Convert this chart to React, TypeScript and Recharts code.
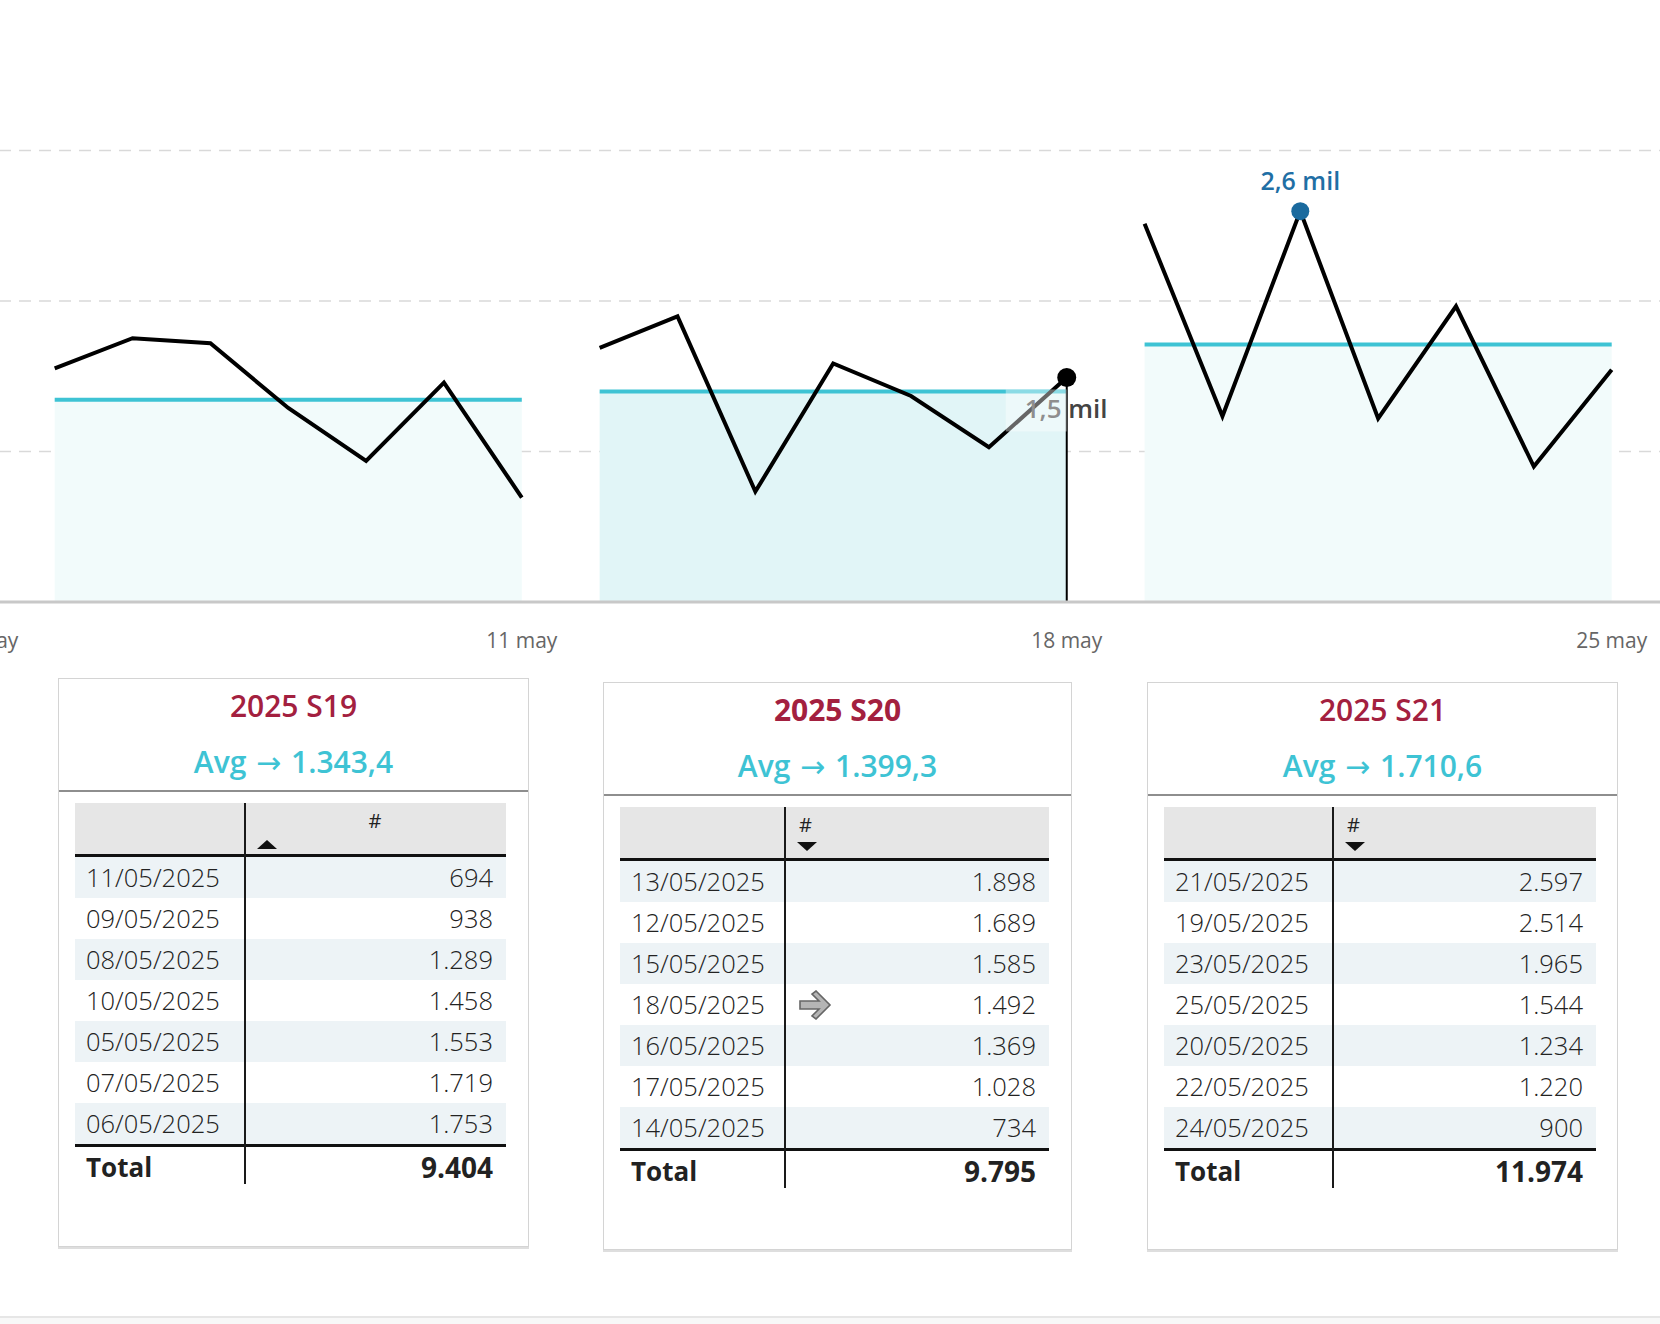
import React from 'react';
import { ComposedChart, Line, Area, XAxis, YAxis, CartesianGrid, ReferenceLine } from 'recharts';

// ---------- data ----------
const week1Days = [5, 6, 7, 8, 9, 10, 11];
const week1Values = [1553, 1753, 1719, 1289, 938, 1458, 694];
const week2Days = [12, 13, 14, 15, 16, 17, 18];
const week2Values = [1689, 1898, 734, 1585, 1369, 1028, 1492];
const week3Days = [19, 20, 21, 22, 23, 24, 25];
const week3Values = [2514, 1234, 2597, 1220, 1965, 900, 1544];
const weekTitles = ['2025 S19', '2025 S20', '2025 S21'];
const tickDays = [4, 11, 18, 25];
const tickLabels = ['4 may', '11 may', '18 may', '25 may'];
const gridValues = [1000, 2000, 3000];
const monthSuffix = '/05/2025';

// ---------- helpers ----------
const sum = (a: number[]) => a.reduce((s, v) => s + v, 0);
const avgOf = (a: number[]) => sum(a) / a.length;
const thousands = (s: string) => s.replace(/\B(?=(\d{3})+(?!\d))/g, '.');
const fmtInt = (n: number) => thousands(String(Math.round(n)));
const fmtAvg = (n: number) => {
  const [i, d] = n.toFixed(1).split('.');
  return `${thousands(i)},${d}`;
};
const fmtMil = (n: number) => `${(n / 1000).toFixed(1).replace('.', ',')} mil`;
const fmtDate = (d: number) => `${String(d).padStart(2, '0')}${monthSuffix}`;

const weeks = [
  { days: week1Days, values: week1Values },
  { days: week2Days, values: week2Values },
  { days: week3Days, values: week3Values },
];
const weekAvgs = weeks.map((w) => avgOf(w.values));

const chartData = weeks.flatMap((w, wi) =>
  w.days.map((d, i) => {
    const row: any = { day: d, w1: null, w2: null, w3: null, a1: null, a2: null, a3: null };
    row[`w${wi + 1}`] = w.values[i];
    row[`a${wi + 1}`] = weekAvgs[wi];
    return row;
  })
);

const lastW2Day = week2Days[week2Days.length - 1];
const lastW2Value = week2Values[week2Values.length - 1];
const peakW3Day = week3Days[week3Values.indexOf(Math.max(...week3Values))];

// ---------- layout ----------
const FONT = '"Open Sans", "Noto Sans", sans-serif';
const PX_PER_DAY = 77.85;
const FIRST_DAY_X = 55;
const DOMAIN: [number, number] = [3, 26];
const CHART_LEFT = FIRST_DAY_X - (week1Days[0] - DOMAIN[0]) * PX_PER_DAY;
const CHART_WIDTH = (DOMAIN[1] - DOMAIN[0]) * PX_PER_DAY;
const PLOT_H = 602;
const AXIS_H = 60;
const Y_MAX = 4000;

const AVG_COLOR = '#3ec3d4';
const TITLE_COLOR = '#a3203f';

const renderW2Dot = (props: any) => {
  const { cx, cy, payload, index } = props;
  if (!payload || payload.day !== lastW2Day || cx == null || cy == null) return <g key={`w2d-${index}`} />;
  return (
    <g key={`w2d-${index}`}>
      <text x={cx - 42} y={cy + 31} fontSize={26} fontWeight={600} fill="#444" dominantBaseline="central" fontFamily={FONT}>
        {fmtMil(payload.w2)}
      </text>
      <rect x={cx - 61} y={cy + 12} width={61} height={42} fill="#ffffff" fillOpacity={0.4} />
      <circle cx={cx} cy={cy} r={9.5} fill="#000" />
    </g>
  );
};

const renderW3Dot = (props: any) => {
  const { cx, cy, payload, index } = props;
  if (!payload || payload.day !== peakW3Day || cx == null || cy == null) return <g key={`w3d-${index}`} />;
  return (
    <g key={`w3d-${index}`}>
      <circle cx={cx} cy={cy} r={9} fill="#1a6a9e" />
      <text x={cx} y={cy - 31} fontSize={25} fontWeight={600} fill="#1f6fa5" textAnchor="middle" dominantBaseline="central" fontFamily={FONT}>
        {fmtMil(payload.w3)}
      </text>
    </g>
  );
};

const AxisTick = (props: any) => {
  const { x, y, payload, index } = props;
  const label = tickLabels[tickDays.indexOf(payload.value)] ?? '';
  const shift = index === 0 ? 12 : 0;
  return (
    <text x={x + shift} y={y} dy="0.71em" textAnchor="middle" fill="#666" fontSize={21} fontFamily={FONT}>
      {label}
    </text>
  );
};

const Chart = () => (
  <div style={{ position: 'absolute', left: CHART_LEFT, top: 0 }}>
    <ComposedChart
      width={CHART_WIDTH}
      height={PLOT_H + AXIS_H}
      data={chartData}
      margin={{ top: 0, right: 0, bottom: 0, left: 0 }}
      style={{ fontFamily: FONT }}
    >
      <CartesianGrid
        vertical={false}
        horizontalValues={gridValues}
        stroke="#d9d9d9"
        strokeWidth={1.5}
        strokeDasharray="12 8"
      />
      <XAxis
        dataKey="day"
        type="number"
        domain={DOMAIN}
        ticks={tickDays}
        interval={0}
        allowDataOverflow
        height={AXIS_H}
        axisLine={{ stroke: '#c8c8c8', strokeWidth: 3 }}
        tickLine={false}
        tickSize={0}
        tickMargin={31}
        tick={<AxisTick />}
      />
      <YAxis hide width={0} domain={[0, Y_MAX]} type="number" allowDataOverflow />
      <Area dataKey="a1" type="linear" stroke={AVG_COLOR} strokeWidth={4} fill="#f2fbfb" fillOpacity={1} isAnimationActive={false} dot={false} activeDot={false} />
      <Area dataKey="a2" type="linear" stroke={AVG_COLOR} strokeWidth={4} fill="#e1f5f7" fillOpacity={1} isAnimationActive={false} dot={false} activeDot={false} />
      <Area dataKey="a3" type="linear" stroke={AVG_COLOR} strokeWidth={4} fill="#f2fbfb" fillOpacity={1} isAnimationActive={false} dot={false} activeDot={false} />
      <Line dataKey="w1" type="linear" stroke="#000" strokeWidth={4} dot={false} activeDot={false} isAnimationActive={false} />
      <Line dataKey="w2" type="linear" stroke="#000" strokeWidth={4} dot={renderW2Dot} activeDot={false} isAnimationActive={false} />
      <Line dataKey="w3" type="linear" stroke="#000" strokeWidth={4} dot={renderW3Dot} activeDot={false} isAnimationActive={false} />
      <ReferenceLine
        segment={[{ x: lastW2Day, y: 0 }, { x: lastW2Day, y: lastW2Value }]}
        stroke="#000"
        strokeWidth={2}
        ifOverflow="visible"
      />
    </ComposedChart>
  </div>
);

// ---------- table cards ----------
const ArrowIcon = ({ left }: { left: number }) => (
  <svg width={36} height={30} viewBox="0 0 36 30" style={{ position: 'absolute', left, top: -15 }}>
    <polygon points="2,11 21,11 14,4 18,1 32,15 18,29 14,26 21,19 2,19" fill="#b5b5b5" stroke="#666" strokeWidth={1.6} strokeLinejoin="miter" />
  </svg>
);

type CardProps = {
  left: number;
  top: number;
  width: number;
  height: number;
  tableW: number;
  col1: number;
  wi: number;
  asc: boolean;
  bold: boolean;
  arrowDay?: number;
};

const HEADER_H = 51;
const ROW_H = 41;
const TOTAL_H = 37;

const Card = ({ left, top, width, height, tableW, col1, wi, asc, bold, arrowDay }: CardProps) => {
  const w = weeks[wi];
  const rows = w.days.map((d, i) => ({ d, v: w.values[i] })).sort((a, b) => (asc ? a.v - b.v : b.v - a.v));
  const total = sum(w.values);
  const tableH = HEADER_H + 3 + rows.length * ROW_H + 3 + TOTAL_H;
  return (
    <div
      style={{
        position: 'absolute',
        left,
        top,
        width,
        height,
        boxSizing: 'border-box',
        border: '1px solid #d4d4d4',
        boxShadow: '0 2px 0 #dedede',
        background: '#fff',
        fontFamily: FONT,
      }}
    >
      <div style={{ position: 'absolute', left: 0, right: 0, top: 5, height: 44, lineHeight: '44px', textAlign: 'center', color: TITLE_COLOR, fontSize: 30, fontWeight: bold ? 700 : 600 }}>
        {weekTitles[wi]}
      </div>
      <div style={{ position: 'absolute', left: 0, right: 0, top: 61, height: 44, lineHeight: '44px', textAlign: 'center', color: AVG_COLOR, fontSize: 30, fontWeight: 600, whiteSpace: 'nowrap' }}>
        Avg{' '}
        <span style={{ fontFamily: '"DejaVu Sans", sans-serif', fontWeight: 400, fontSize: 30, margin: '0 2px' }}>→</span>
        {` ${fmtAvg(weekAvgs[wi])}`}
      </div>
      <div style={{ position: 'absolute', left: 0, right: 0, top: 111, height: 2, background: '#8e8e8e' }} />
      <div style={{ position: 'absolute', left: 16, top: 124, width: tableW, height: tableH }}>
        <div style={{ position: 'absolute', left: 0, top: 0, width: tableW, height: HEADER_H, background: '#e6e6e6', borderBottom: '3px solid #111' }}>
          {asc ? (
            <>
              <div style={{ position: 'absolute', left: col1, width: tableW - col1, top: 4, textAlign: 'center', fontSize: 20, color: '#222' }}>#</div>
              <svg width={20} height={10} style={{ position: 'absolute', left: col1 + 13, top: 36 }}>
                <polygon points="0,10 10,1 20,10" fill="#111" />
              </svg>
            </>
          ) : (
            <>
              <div style={{ position: 'absolute', left: col1 + 15, top: 4, fontSize: 20, color: '#222' }}>#</div>
              <svg width={20} height={10} style={{ position: 'absolute', left: col1 + 13, top: 35 }}>
                <polygon points="0,0 20,0 10,9" fill="#111" />
              </svg>
            </>
          )}
        </div>
        {rows.map((r, i) => (
          <div
            key={r.d}
            style={{
              position: 'absolute',
              left: 0,
              top: HEADER_H + 3 + i * ROW_H,
              width: tableW,
              height: ROW_H,
              background: i % 2 === 0 ? '#edf3f6' : '#ffffff',
              fontSize: 25.5,
              fontWeight: 300,
              color: '#222',
              lineHeight: `${ROW_H}px`,
            }}
          >
            <span style={{ position: 'absolute', left: 11 }}>{fmtDate(r.d)}</span>
            <span style={{ position: 'absolute', right: 13 }}>{fmtInt(r.v)}</span>
            {arrowDay === r.d && (
              <div style={{ position: 'absolute', left: 0, top: ROW_H / 2 }}>
                <ArrowIcon left={col1 + 14} />
              </div>
            )}
          </div>
        ))}
        <div
          style={{
            position: 'absolute',
            left: 0,
            top: HEADER_H + 3 + rows.length * ROW_H,
            width: tableW,
            height: TOTAL_H,
            borderTop: '3px solid #111',
            fontWeight: 700,
            color: '#222',
            lineHeight: `${TOTAL_H + 4}px`,
          }}
        >
          <span style={{ position: 'absolute', left: 11, fontSize: 26 }}>Total</span>
          <span style={{ position: 'absolute', right: 13, fontSize: 28 }}>{fmtInt(total)}</span>
        </div>
        <div style={{ position: 'absolute', left: col1, top: 0, width: 2, height: tableH, background: '#1a1a1a' }} />
      </div>
    </div>
  );
};

export default function App() {
  return (
    <div style={{ position: 'absolute', left: 0, top: 0, width: 1660, height: 1324, overflow: 'hidden', background: '#fff' }}>
      <Chart />
      <Card left={58} top={678} width={471} height={569} tableW={431} col1={169} wi={0} asc={true} bold={false} />
      <Card left={603} top={682} width={469} height={568} tableW={429} col1={164} wi={1} asc={false} bold={true} arrowDay={lastW2Day} />
      <Card left={1147} top={682} width={471} height={568} tableW={432} col1={168} wi={2} asc={false} bold={false} />
      <div style={{ position: 'absolute', left: 0, top: 1316, width: 1660, height: 2, background: '#e6e6e6' }} />
      <div style={{ position: 'absolute', left: 0, top: 1318, width: 1660, height: 6, background: '#f8f8f8' }} />
    </div>
  );
}
